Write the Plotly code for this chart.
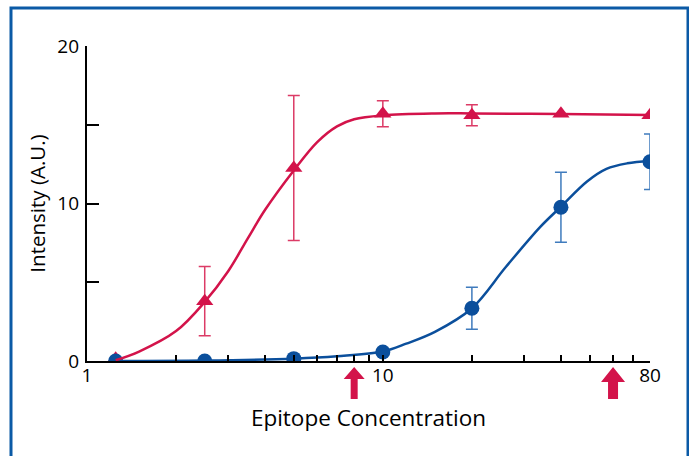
import plotly.graph_objects as go

# ---- data ----
concentration = [1.25, 2.5, 5, 10, 20, 40, 80]

red_values = [0.15, 3.8, 12.25, 15.7, 15.6, 15.7, 15.6]
red_errors = [0, 2.2, 4.6, 0.83, 0.67, 0, 0]

blue_values = [0.0, 0.0, 0.15, 0.57, 3.35, 9.76, 12.65]
blue_errors = [0, 0, 0, 0, 1.33, 2.22, 1.76]

# fitted curves
red_curve_x = [1.25, 1.5, 2, 2.5, 3, 3.5, 4, 5, 6, 7, 8, 10, 15, 20, 40, 80]
red_curve_y = [0.05, 0.6, 1.9, 3.75, 5.7, 7.8, 9.6, 12.1, 13.9, 14.9, 15.35, 15.6, 15.72, 15.72, 15.68, 15.62]

blue_curve_x = [1.25, 2.5, 5, 7, 10, 12, 15, 20, 26, 34, 40, 49, 57, 67, 80]
blue_curve_y = [0.0, 0.03, 0.15, 0.3, 0.6, 1.1, 1.85, 3.35, 5.95, 8.5, 9.8, 11.4, 12.2, 12.55, 12.7]

x_tick_vals = [1, 10, 80]
x_tick_text = ["1", "10", "80"]
x_minor_vals = [2, 3, 4, 5, 6, 7, 8, 9, 20, 30, 40, 50, 60, 70]
y_tick_vals = [5, 10, 15]
y_label_vals = [0, 10, 20]
y_label_text = ["0", "10", "20"]

arrow_positions = [8, 60]

RED = "#d3134a"
BLUE = "#0b4f9c"
BLUE_ERR = "#3f7bbd"
RED_ERR = "#dc3b66"
FONT = "Open Sans"

fig = go.Figure()

# red markers with error bars
fig.add_trace(go.Scatter(
    x=concentration, y=red_values, mode="markers",
    marker=dict(symbol="triangle-up", size=15, color=RED),
    error_y=dict(type="data", array=red_errors, color=RED_ERR, thickness=1.5, width=6),
    showlegend=False, hoverinfo="skip"))

# blue curve and markers
fig.add_trace(go.Scatter(
    x=blue_curve_x, y=blue_curve_y, mode="lines", line=dict(color=BLUE, width=2.5, shape="spline"),
    showlegend=False, hoverinfo="skip"))
fig.add_trace(go.Scatter(
    x=concentration, y=blue_values, mode="markers",
    marker=dict(symbol="circle", size=15, color=BLUE),
    error_y=dict(type="data", array=blue_errors, color=BLUE_ERR, thickness=1.5, width=6),
    showlegend=False, hoverinfo="skip"))

# red curve
fig.add_trace(go.Scatter(
    x=red_curve_x, y=red_curve_y, mode="lines", line=dict(color=RED, width=2.5, shape="spline"),
    showlegend=False, hoverinfo="skip"))

# dummy trace for label axis
fig.add_trace(go.Scatter(x=[None], y=[None], yaxis="y2", showlegend=False, hoverinfo="skip"))

# arrows under the x axis
for xa in arrow_positions:
    big = xa > 20
    hw = 12 if big else 10.5
    sw = 5 if big else 3.5
    hb = -21 if big else -18
    path = (f"M {-sw},-38 L {sw},-38 L {sw},{hb} L {hw},{hb} L 0,-6 "
            f"L {-hw},{hb} L {-sw},{hb} Z")
    fig.add_shape(type="path", xref="x", yref="paper", xsizemode="pixel", ysizemode="pixel",
                  xanchor=xa, yanchor=0, path=path, fillcolor=RED, line=dict(width=0))

# frame around the figure
fig.add_shape(type="rect", xref="paper", yref="paper",
              x0=-0.135, x1=1.0675, y0=-0.40, y1=1.1206,
              line=dict(color="#0b5aa6", width=3), fillcolor="rgba(0,0,0,0)")

fig.update_layout(
    width=689, height=456,
    margin=dict(l=87, r=39, t=46, b=95),
    paper_bgcolor="white", plot_bgcolor="white",
    font=dict(family=FONT, size=19, color="black"),
    xaxis=dict(
        type="log", range=[0, 1.90309], showgrid=False, zeroline=False, automargin=False,
        showline=True, linecolor="black", linewidth=2,
        tickmode="array", tickvals=x_tick_vals, ticktext=x_tick_text,
        ticks="inside", ticklen=6, tickwidth=1.5, tickcolor="black",
        ticklabelstandoff=-4,
        minor=dict(tickmode="array", tickvals=x_minor_vals, ticks="inside", ticklen=6,
                   tickwidth=1.5, tickcolor="black", showgrid=False),
        title=dict(text="Epitope Concentration", font=dict(size=22.5), standoff=23),
        tickfont=dict(size=19),
    ),
    yaxis=dict(
        range=[0, 20], showgrid=False, zeroline=False, automargin=False,
        showline=True, linecolor="black", linewidth=2,
        tickmode="array", tickvals=y_tick_vals, showticklabels=False,
        ticks="inside", ticklen=12, tickwidth=1.5, tickcolor="black",
        title=dict(text="Intensity (A.U.)", font=dict(size=20.5), standoff=34),
    ),
    yaxis2=dict(
        overlaying="y", side="left", range=[0, 20], showgrid=False, zeroline=False,
        automargin=False, showline=False, tickmode="array", tickvals=y_label_vals,
        ticktext=y_label_text, ticks="", ticklabelstandoff=7, tickfont=dict(size=19),
    ),
)

fig.write_html("out.html", config={"displayModeBar": False},
               post_script="document.body.style.margin='0';")
